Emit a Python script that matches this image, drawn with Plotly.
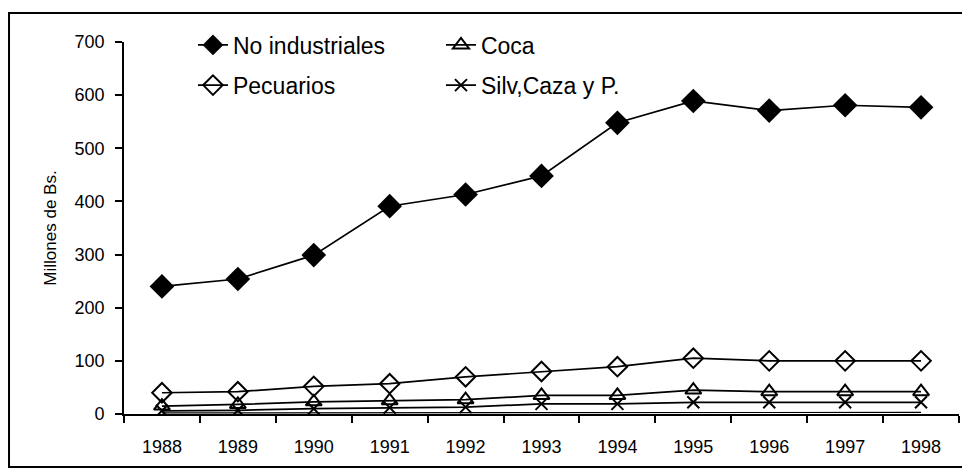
import plotly.graph_objects as go

years = ["1988", "1989", "1990", "1991", "1992", "1993", "1994", "1995", "1996", "1997", "1998"]
no_industriales = [240, 254, 299, 391, 413, 448, 548, 589, 571, 581, 577]
pecuarios = [40, 42, 52, 57, 70, 80, 89, 105, 100, 100, 100]
coca = [15, 18, 23, 25, 27, 35, 35, 45, 42, 42, 42]
silv = [6, 7, 10, 12, 13, 19, 19, 22, 22, 22, 22]
base_line = [2, 2, 3, 3, 3, 3, 3, 3, 3, 3, 3]
y_ticks = [0, 100, 200, 300, 400, 500, 600, 700]

fig = go.Figure()
fig.add_trace(go.Scatter(x=years, y=base_line, name="", mode="lines", showlegend=False,
                         line=dict(color="black", width=1.2), hoverinfo="skip"))
fig.add_trace(go.Scatter(x=years, y=no_industriales, name="No industriales", mode="lines+markers",
                         legend="legend", line=dict(color="black", width=1.7),
                         marker=dict(symbol="diamond", size=19, color="black")))
fig.add_trace(go.Scatter(x=years, y=coca, name="Coca", mode="lines+markers",
                         legend="legend", line=dict(color="black", width=1.7),
                         marker=dict(symbol="triangle-up-open", size=14, color="black", line=dict(width=2))))
fig.add_trace(go.Scatter(x=years, y=pecuarios, name="Pecuarios", mode="lines+markers",
                         legend="legend2", line=dict(color="black", width=1.7),
                         marker=dict(symbol="diamond-open", size=15, color="black", line=dict(width=2))))
fig.add_trace(go.Scatter(x=years, y=silv, name="Silv,Caza y P.", mode="lines+markers",
                         legend="legend2", line=dict(color="black", width=1.7),
                         marker=dict(symbol="x-thin-open", size=12, color="black", line=dict(width=2))))

legend_common = dict(orientation="h", xanchor="left", yanchor="middle",
                     entrywidth=203, entrywidthmode="pixels",
                     font=dict(size=23, family="Liberation Sans, Arial, sans-serif", color="black"),
                     bgcolor="rgba(0,0,0,0)", traceorder="normal")

fig.update_layout(
    width=962, height=468,
    margin=dict(l=116, r=11, t=34, b=62),
    paper_bgcolor="white", plot_bgcolor="white",
    font=dict(family="Liberation Sans, Arial, sans-serif", color="black"),
    showlegend=True,
    legend=dict(x=0.0826, y=0.992, **legend_common),
    legend2=dict(x=0.0826, y=0.884, **legend_common),
    xaxis=dict(type="category", tickson="boundaries", ticks="outside", ticklen=7,
               tickcolor="black", tickwidth=1.5, showline=True, linecolor="black", linewidth=1.8,
               showgrid=False, tickfont=dict(size=18), ticklabelstandoff=15,
               range=[-0.5, 10.5]),
    yaxis=dict(range=[0, 700], tickvals=y_ticks, ticktext=[str(v) for v in y_ticks],
               ticks="outside", ticklen=7, tickcolor="black", tickwidth=1.5, showline=True,
               linecolor="black", linewidth=1.8, showgrid=False, zeroline=False,
               tickfont=dict(size=18), ticklabelstandoff=7,
               title=dict(text="Millones de Bs.", font=dict(size=17), standoff=14)),
    shapes=[dict(type="rect", xref="paper", yref="paper", x0=-0.1377, x1=1.0084,
                 y0=-0.1425, y1=1.078, line=dict(color="black", width=2))],
)

fig.write_html("out.html")
